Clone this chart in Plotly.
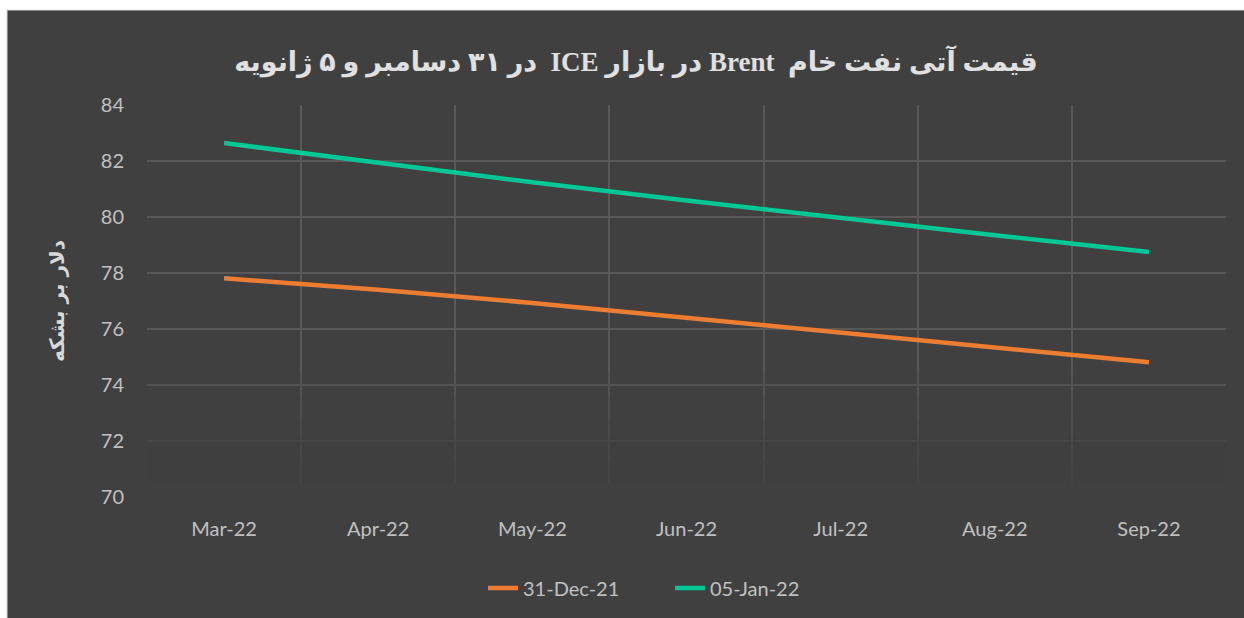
import plotly.graph_objects as go

months = ["Mar-22", "Apr-22", "May-22", "Jun-22", "Jul-22", "Aug-22", "Sep-22"]
dec31 = [77.81, 77.40, 76.93, 76.41, 75.87, 75.34, 74.81]
jan05 = [82.64, 81.94, 81.24, 80.59, 79.96, 79.35, 78.75]
y_ticks = [70, 72, 74, 76, 78, 80, 82, 84]

title_text = "\u202bقیمت آتی نفت خام  Brent در بازار ICE  در ۳۱ دسامبر و ۵ ژانویه\u202c"
y_title = "دلار بر بشکه"

BG = "#404040"
GRID = "#585858"
W, H = 1244, 618
L, R, T, B = 147, 18, 105, 121
pw, ph = W - L - R, H - T - B

fig = go.Figure()
fig.add_trace(go.Scatter(x=months, y=dec31, name="31-Dec-21", mode="lines",
                         line=dict(color="#ED7D31", width=4.5)))
fig.add_trace(go.Scatter(x=months, y=jan05, name="05-Jan-22", mode="lines",
                         line=dict(color="#00C896", width=4.5)))

shapes = []
# outer frame (white margin at top/left, dark chart area)
shapes.append(dict(type="rect", xref="paper", yref="paper", layer="below",
                   x0=(7 - L) / pw, x1=(W + 5 - L) / pw,
                   y0=(T + ph - (H + 5)) / ph, y1=(T + ph - 10) / ph,
                   fillcolor=BG, line=dict(color="#d9d9d9", width=1)))
# fade of gridlines toward the bottom
for top, op in [(74.5, 0.2), (73.6, 0.2), (72.8, 0.25), (72.1, 0.3), (71.3, 0.4), (70.5, 1.0)]:
    shapes.append(dict(type="rect", xref="paper", yref="y", layer="above",
                       x0=0, x1=1, y0=69.5, y1=top, fillcolor=BG, opacity=op,
                       line=dict(width=0)))

fig.update_layout(
    width=W, height=H,
    margin=dict(l=L, r=R, t=T, b=B),
    paper_bgcolor="#ffffff",
    plot_bgcolor=BG,
    shapes=shapes,
    title=dict(text=title_text, x=636 / W, xanchor="center", xref="container",
               y=1 - 62 / H, yanchor="middle", yref="container",
               font=dict(family="Liberation Serif, DejaVu Sans", size=27, color="#e0e0e0", weight="bold")),
    xaxis=dict(type="category", tickson="boundaries", range=[-0.5, 6.5],
               showgrid=True, gridcolor=GRID, gridwidth=1.5,
               ticks="", showline=False, zeroline=False, ticklabelstandoff=18,
               tickfont=dict(family="Lato", size=20, color="#c0c0c0")),
    yaxis=dict(range=[70, 84], tickvals=y_ticks, showgrid=True, gridcolor=GRID, gridwidth=1.5,
               ticks="", showline=False, zeroline=False, ticklabelstandoff=22,
               tickfont=dict(family="Lato", size=20, color="#c0c0c0"),
               title=dict(text=y_title, standoff=30,
                          font=dict(family="DejaVu Sans", size=20, color="#d9d9d9", weight="bold"))),
    legend=dict(orientation="h", xref="container", yref="container", x=483 / W, xanchor="left",
                y=1 - 588 / H, yanchor="middle", entrywidth=142,
                font=dict(family="Lato", size=20, color="#c0c0c0"), bgcolor="rgba(0,0,0,0)"),
    showlegend=True,
)

fig.write_html("out.html", config={"displayModeBar": False},
               post_script="document.body.style.margin='0';")
